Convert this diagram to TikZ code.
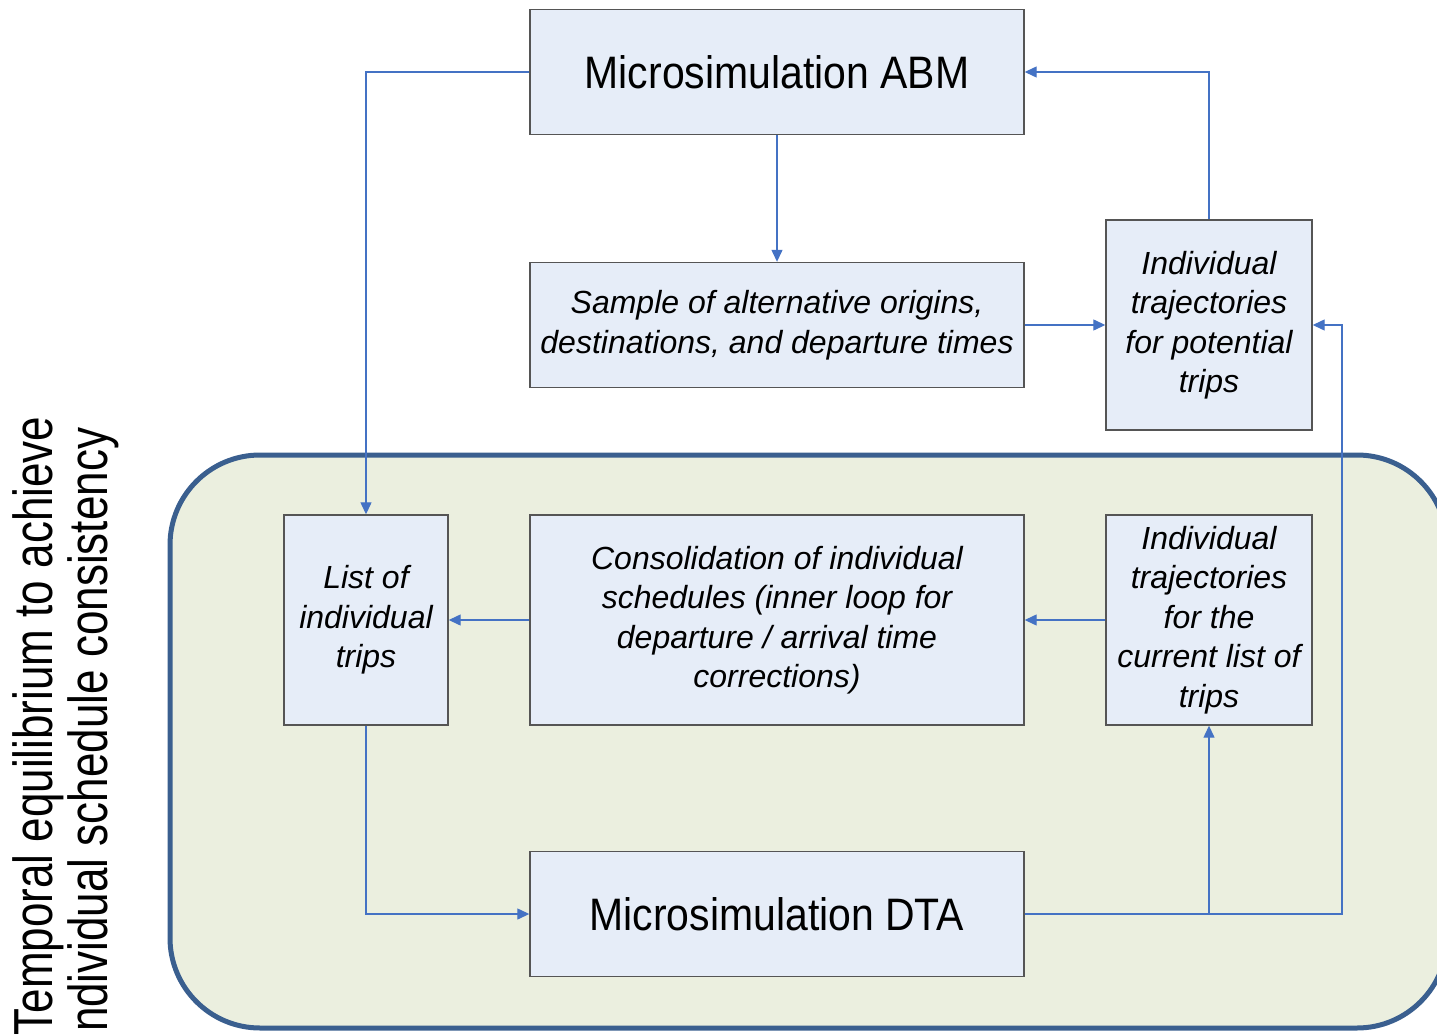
\documentclass[tikz,border=0pt]{standalone}
\usepackage{fontspec}
\setmainfont{Liberation Sans}
\newfontfamily\condsans{Liberation Sans}[FakeStretch=0.9]
\newfontfamily\sidesans{Liberation Sans}[FakeStretch=0.8]
\usetikzlibrary{arrows.meta}
\definecolor{boxfill}{RGB}{230,237,248}
\definecolor{boxline}{RGB}{85,85,85}
\definecolor{flow}{RGB}{68,114,196}
\definecolor{loopfill}{RGB}{235,239,223}
\definecolor{loopline}{RGB}{58,95,143}
\begin{document}
\begin{tikzpicture}[x=1pt,y=-1pt,
  stepbox/.style={draw=boxline,line width=1.4pt,fill=boxfill,rectangle,inner sep=0pt,align=center},
  bigtext/.style={font=\condsans\fontsize{45.5}{50}\selectfont},
  smalltext/.style={font=\itshape\fontsize{32}{39.5}\selectfont},
  flowline/.style={draw=flow,line width=1.3pt,-{Triangle[length=12pt,width=11pt]}},
  sidetext/.style={font=\sidesans\fontsize{55}{60}\selectfont,rotate=90,anchor=base,inner sep=0pt}
]
\useasboundingbox (0,0) rectangle (1437,1035);

% inner loop region
\draw[draw=loopline,fill=loopfill,line width=5pt,rounded corners=90pt]
  (170,455) rectangle (1447,1028);

% side caption
\node[sidetext] (cap1) at (52,726) {Temporal equilibrium to achieve};
\node[sidetext] (cap2) at (107,736) {Individual schedule consistency};

% boxes
\node[stepbox,bigtext,minimum width=494pt,minimum height=125pt] (abm) at (777,72) {Microsimulation ABM};
\node[stepbox,smalltext,minimum width=494pt,minimum height=125pt] (sample) at (777,325)
  {Sample of alternative origins,\\destinations, and departure times};
\node[stepbox,smalltext,minimum width=206pt,minimum height=210pt] (trpot) at (1209,325)
  {Individual\\trajectories\\for potential\\trips};
\node[stepbox,smalltext,minimum width=164pt,minimum height=210pt] (list) at (366,620)
  {List of\\individual\\trips};
\node[stepbox,smalltext,minimum width=494pt,minimum height=210pt] (cons) at (777,620)
  {Consolidation of individual\\schedules (inner loop for\\departure / arrival time\\corrections)};
\node[stepbox,smalltext,minimum width=206pt,minimum height=210pt] (trcur) at (1209,620)
  {Individual\\trajectories\\for the\\current list of\\trips};
\node[stepbox,bigtext,minimum width=494pt,minimum height=125pt] (dta) at (777,914) {Microsimulation DTA};

% connectors
\coordinate (loopright) at (1342,914);
\draw[flowline] (abm.west) -| (list.north);
\draw[flowline] (abm.south) -- (sample.north);
\draw[flowline] (sample.east) -- (trpot.west);
\draw[flowline] (trpot.north) |- (abm.east);
\draw[flowline] (cons.west) -- (list.east);
\draw[flowline] (trcur.west) -- (cons.east);
\draw[flowline] (list.south) |- (dta.west);
\draw[flowline] (dta.east) -| (trcur.south);
\draw[flowline] (dta.east) -- (loopright) |- (trpot.east);
\end{tikzpicture}
\end{document}
